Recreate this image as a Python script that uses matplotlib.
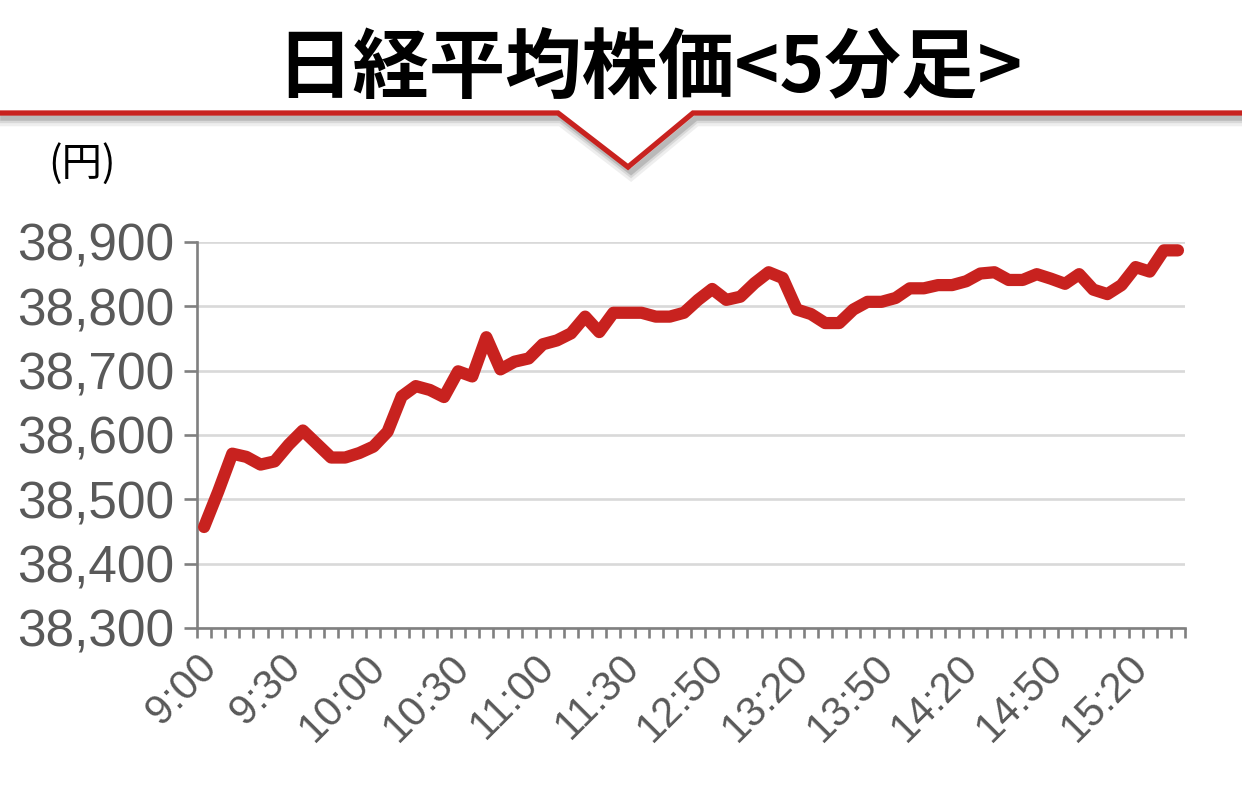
import matplotlib.pyplot as plt
from matplotlib.lines import Line2D
from matplotlib.ticker import FuncFormatter, FixedLocator
from matplotlib.transforms import ScaledTranslation
import numpy as np

# 5分足の終値（円）
prices = [38457, 38512, 38571, 38566, 38554, 38559, 38585, 38607, 38586, 38565,
          38565, 38572, 38582, 38605, 38660, 38676, 38670, 38659, 38699, 38691,
          38752, 38702, 38714, 38719, 38741, 38747, 38758, 38784, 38760, 38790,
          38790, 38790, 38784, 38784, 38790, 38810, 38827, 38810, 38815, 38836,
          38853, 38844, 38795, 38788, 38774, 38774, 38795, 38807, 38807, 38813,
          38828, 38828, 38833, 38833, 38839, 38851, 38853, 38841, 38841, 38850,
          38843, 38835, 38850, 38826, 38819, 38833, 38861, 38854, 38887, 38887]
time_labels = ["9:00", "9:30", "10:00", "10:30", "11:00", "11:30",
               "12:50", "13:20", "13:50", "14:20", "14:50", "15:20"]
label_step = 6
y_ticks = [38300, 38400, 38500, 38600, 38700, 38800, 38900]

RED = "#c8221f"
GRAY_TXT = "#595959"
AXIS_GRAY = "#808080"
GRID = "#d9d9d9"

W, H = 1242, 787
fig = plt.figure(figsize=(W / 100, H / 100), dpi=100)
fig.patch.set_facecolor("white")

# 見出し
fig.text(0.523, 1 - 70 / H, "日経平均株価<5分足>", ha="center", va="center",
         fontsize=55, fontweight="bold", color="black",
         family=["Noto Sans CJK JP", "DejaVu Sans"])

# 見出し下の赤いライン（影付き）
px = np.array([0, 558, 628, 693, W])
py = np.array([113, 113, 167, 113, 113])
for off, lw, a in [(7, 9, 0.10), (6, 6, 0.15), (5, 4, 0.25)]:
    fig.add_artist(Line2D((px + 3) / W, 1 - (py + off) / H, color="#606060",
                          lw=lw, alpha=a, solid_joinstyle="miter"))
fig.add_artist(Line2D(px / W, 1 - py / H, color=RED, lw=3.8,
                      solid_joinstyle="miter"))

fig.text(48 / W, 1 - 164 / H, "(円)", ha="left", va="center", fontsize=29,
         color="black", family=["Noto Sans CJK JP", "DejaVu Sans"])

ax = fig.add_axes([197 / W, 1 - 628 / H, (1185 - 197) / W, (628 - 242) / H])
x = np.arange(len(prices))
ax.plot(x, prices, color=RED, lw=8.8, solid_capstyle="round",
        solid_joinstyle="round", zorder=3)

ax.set_xlim(-0.5, len(prices) - 0.5)
ax.set_ylim(y_ticks[0], y_ticks[-1])
ax.set_yticks(y_ticks)
ax.yaxis.set_major_formatter(FuncFormatter(lambda v, p: f"{int(v):,}"))
ax.grid(axis="y", color=GRID, lw=1.9, zorder=0)
ax.set_axisbelow(True)

ax.set_xticks(x[::label_step])
ax.set_xticklabels(time_labels, rotation=45, ha="right", va="center",
                   rotation_mode="anchor")
ax.xaxis.set_minor_locator(FixedLocator(np.arange(-0.5, len(prices), 1.0)))

for s in ["top", "right"]:
    ax.spines[s].set_visible(False)
for s in ["left", "bottom"]:
    ax.spines[s].set_color(AXIS_GRAY)
    ax.spines[s].set_linewidth(1.9)

ax.tick_params(axis="y", which="major", length=9.5, width=1.9, color=AXIS_GRAY,
               labelsize=37, labelcolor=GRAY_TXT, pad=7)
ax.tick_params(axis="x", which="major", length=0, labelsize=30,
               labelcolor=GRAY_TXT, pad=24)
ax.tick_params(axis="x", which="minor", length=7.5, width=1.9, color=AXIS_GRAY)
shift = ScaledTranslation(6 / 100, 0, fig.dpi_scale_trans)
for lab in ax.get_xticklabels():
    lab.set_family(["Liberation Sans", "DejaVu Sans"])
    lab.set_transform(lab.get_transform() + shift)
for lab in ax.get_yticklabels():
    lab.set_family(["Liberation Sans", "DejaVu Sans"])

fig.savefig("out.png", dpi=100, facecolor="white")
